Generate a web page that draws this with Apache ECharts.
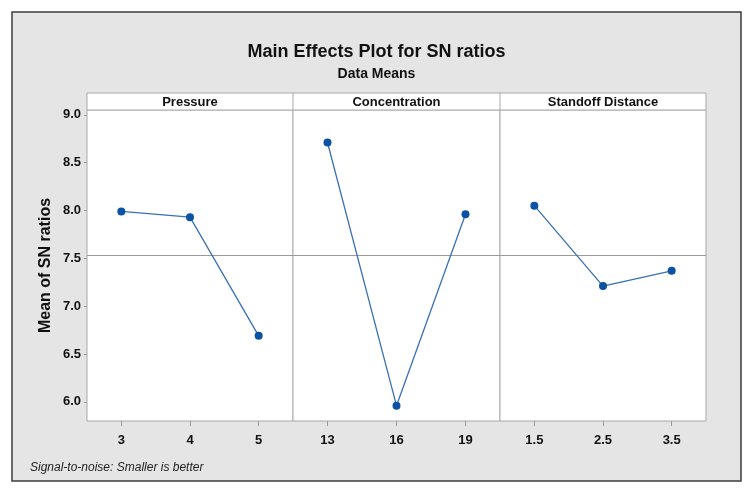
<!DOCTYPE html>
<html>
<head>
<meta charset="utf-8">
<script src="https://cdn.jsdelivr.net/npm/echarts@6/dist/echarts.min.js"></script>
<style>html,body{margin:0;padding:0;background:#fff;}#c{width:753px;height:493px;}</style>
</head>
<body>
<div id="c"></div>
<script>
// ---- data ----
var panelNames = ['Pressure', 'Concentration', 'Standoff Distance'];
var pressureLevels = ['3', '4', '5'];
var pressureSN = [7.99, 7.93, 6.69];
var concLevels = ['13', '16', '19'];
var concSN = [8.71, 5.96, 7.96];
var standoffLevels = ['1.5', '2.5', '3.5'];
var standoffSN = [8.05, 7.21, 7.37];
var meanSN = 7.53;
var yTicks = [6.0, 6.5, 7.0, 7.5, 8.0, 8.5, 9.0];

var chart = echarts.init(document.getElementById('c'));
var FONT = '"Liberation Sans", Arial, sans-serif';
var levels = [pressureLevels, concLevels, standoffLevels];
var values = [pressureSN, concSN, standoffSN];
var gridLefts = [87, 293, 500];
var gridWidths = [206, 207, 206];
var TOP = 110, HEIGHT = 311;
var borderCol = '#a9a9a9';

var grids = [], xAxes = [], yAxes = [], series = [];
for (var i = 0; i < 3; i++) {
  grids.push({left: gridLefts[i], top: TOP, width: gridWidths[i], height: HEIGHT,
    show: true, backgroundColor: '#ffffff', borderColor: borderCol, borderWidth: 1, z: 1});
  xAxes.push({type: 'category', gridIndex: i, data: levels[i], boundaryGap: true,
    axisLine: {show: false},
    axisTick: {show: true, alignWithLabel: true, length: 5, lineStyle: {color: '#999'}},
    axisLabel: {show: true, margin: 13, color: '#111', fontFamily: FONT, fontWeight: 'bold', fontSize: 13},
    splitLine: {show: false}});
  yAxes.push({type: 'value', gridIndex: i, min: 5.8, max: 9.05,
    name: i === 0 ? 'Mean of SN ratios' : '',
    nameLocation: 'middle', nameRotate: 90, nameGap: 33,
    nameTextStyle: {fontFamily: FONT, fontSize: 16, fontWeight: 'bold', color: '#111'},
    axisLine: {show: false},
    axisTick: {show: i === 0, length: 3, lineStyle: {color: '#999'}, customValues: yTicks},
    axisLabel: {show: i === 0, margin: 6, color: '#111', fontFamily: FONT, fontWeight: 'bold', fontSize: 13,
      customValues: yTicks, formatter: function (v) { return v.toFixed(1); }},
    splitLine: {show: false}});
  series.push({type: 'line', xAxisIndex: i, yAxisIndex: i, data: values[i],
    symbol: 'circle', symbolSize: 8,
    itemStyle: {color: '#0a52a3'},
    lineStyle: {color: '#3a70b5', width: 1.3},
    z: 5,
    markLine: {silent: true, symbol: 'none', label: {show: false},
      lineStyle: {color: '#9a9a9a', type: 'solid', width: 1},
      data: [{yAxis: meanSN}]}});
}

var graphics = [
  {type: 'rect', shape: {x: 12, y: 12, width: 729, height: 469}, z: -10,
   style: {fill: '#e5e5e5', stroke: '#3d3d3d', lineWidth: 1.5}},
  {type: 'rect', shape: {x: 87, y: 93, width: 619, height: 17}, z: 10,
   style: {fill: '#ffffff', stroke: borderCol, lineWidth: 1}},
  {type: 'line', shape: {x1: 293, y1: 93, x2: 293, y2: 110}, z: 11, style: {stroke: borderCol, lineWidth: 1}},
  {type: 'line', shape: {x1: 500, y1: 93, x2: 500, y2: 110}, z: 11, style: {stroke: borderCol, lineWidth: 1}}
];
for (var j = 0; j < 3; j++) {
  graphics.push({type: 'text', x: gridLefts[j] + gridWidths[j] / 2, y: 102, z: 12,
    style: {text: panelNames[j], fill: '#111', font: 'bold 13px ' + FONT, align: 'center', verticalAlign: 'middle'}});
}
graphics.push({type: 'text', x: 30, y: 468, z: 12,
  style: {text: 'Signal-to-noise: Smaller is better', fill: '#222', font: 'italic 12px ' + FONT, align: 'left', verticalAlign: 'middle'}});

chart.setOption({
  animation: false,
  backgroundColor: '#ffffff',
  title: [
    {text: 'Main Effects Plot for SN ratios', left: 'center', top: 38,
     textStyle: {fontFamily: FONT, fontSize: 18, fontWeight: 'bold', color: '#111'}},
    {text: 'Data Means', left: 'center', top: 62,
     textStyle: {fontFamily: FONT, fontSize: 14, fontWeight: 'bold', color: '#111'}}
  ],
  grid: grids,
  xAxis: xAxes,
  yAxis: yAxes,
  series: series,
  graphic: graphics
});
</script>
</body>
</html>
